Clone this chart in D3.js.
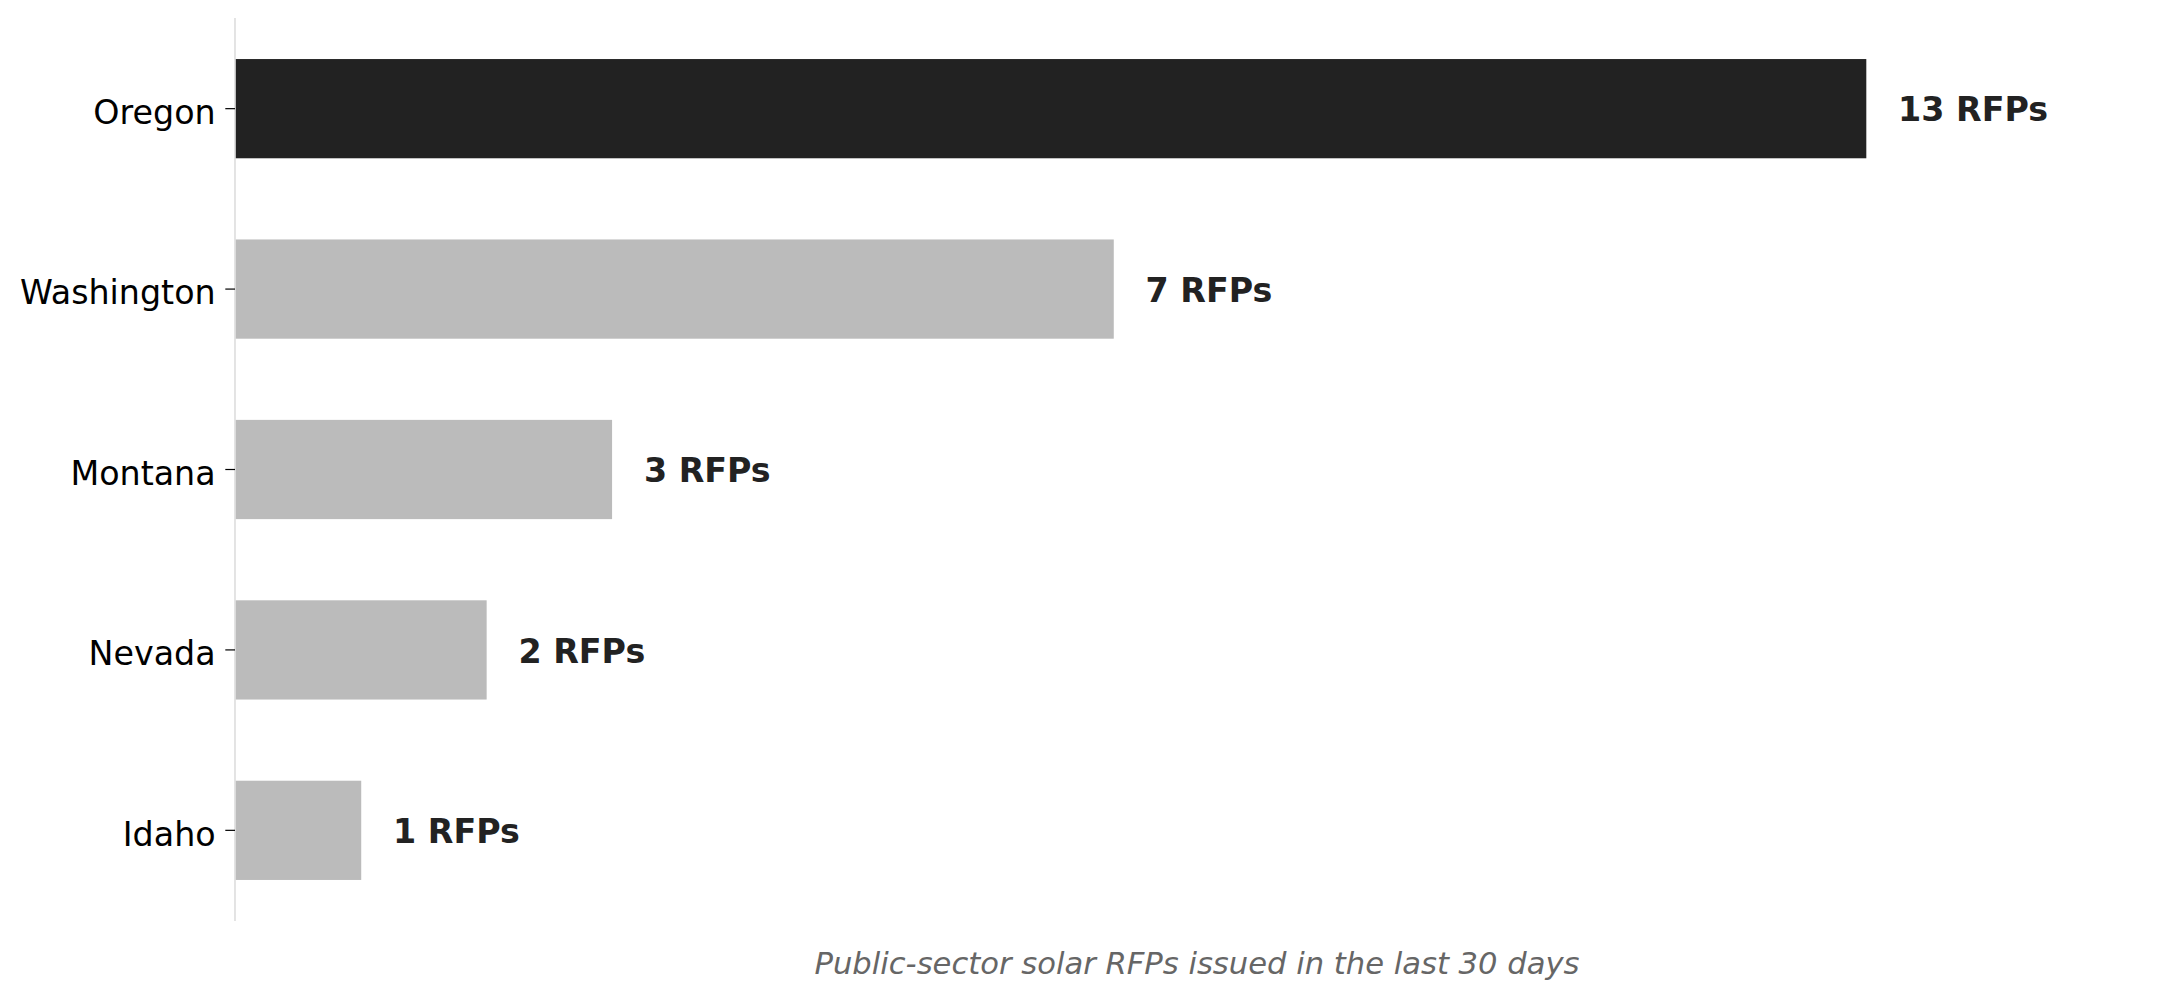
<!DOCTYPE html>
<html lang="en">
<head>
    <meta charset="UTF-8">
    <title>Public-sector solar RFPs</title>
    <script src="https://d3js.org/d3.v7.min.js"></script>
    <style>
        body { margin: 0; background: #fff; font-family: "DejaVu Sans", sans-serif; }
        text { font-family: "DejaVu Sans", sans-serif; }
        .tick-label { font-size: 33.3px; fill: #000; }
        .value-label { font-size: 33.3px; font-weight: bold; fill: #222; }
        .subtitle { font-size: 30.6px; font-style: italic; fill: #666; }
    </style>
</head>
<body>
<svg id="chart" width="2179" height="998"></svg>
<script>
    // Data
    const states = ["Oregon", "Washington", "Montana", "Nevada", "Idaho"];
    const rfpCounts = [13, 7, 3, 2, 1];
    const highlight = "Oregon";
    const subtitle = "Public-sector solar RFPs issued in the last 30 days";

    const width = 2179, height = 998;
    const margin = { top: 18, right: 20, bottom: 77, left: 235 };

    const svg = d3.select("#chart");

    const maxVal = d3.max(rfpCounts);

    // x runs a bit past the largest bar to leave room for labels
    const x = d3.scaleLinear()
        .domain([0, maxVal * 1.18])
        .range([margin.left, width - margin.right]);

    const y = d3.scaleBand()
        .domain(states)
        .range([margin.top, height - margin.bottom])
        .paddingInner(0.45)
        .paddingOuter(0.2275);

    const rows = states.map((s, i) => ({ state: s, value: rfpCounts[i] }));

    // Left spine
    svg.append("line")
        .attr("x1", margin.left).attr("x2", margin.left)
        .attr("y1", margin.top).attr("y2", height - margin.bottom)
        .attr("stroke", "#dddddd")
        .attr("stroke-width", 1.6);

    // Bars
    svg.selectAll(".bar")
        .data(rows)
        .enter()
        .append("rect")
        .attr("class", "bar")
        .attr("x", x(0) + 0.8)
        .attr("y", d => y(d.state))
        .attr("width", d => x(d.value) - x(0))
        .attr("height", y.bandwidth())
        .attr("fill", d => d.state === highlight ? "#222222" : "#bbbbbb");

    // Value labels
    svg.selectAll(".value-label")
        .data(rows)
        .enter()
        .append("text")
        .attr("class", "value-label")
        .attr("x", d => x(d.value + maxVal * 0.02))
        .attr("y", d => y(d.state) + y.bandwidth() / 2)
        .attr("dy", "0.38em")
        .text(d => `${d.value} RFPs`);

    // Y axis: ticks and labels
    const yAxis = svg.append("g")
        .attr("transform", `translate(${margin.left},0)`)
        .call(d3.axisLeft(y).tickSize(9.7).tickPadding(9.7));
    yAxis.attr("font-family", null).attr("font-size", null);
    yAxis.select(".domain").remove();
    yAxis.selectAll(".tick line").attr("stroke", "#000").attr("stroke-width", 1.2);
    yAxis.selectAll(".tick text")
        .attr("class", "tick-label")
        .attr("fill", null)
        .attr("dy", "0.46em");

    // Subtitle under the axes
    svg.append("text")
        .attr("class", "subtitle")
        .attr("x", (x.range()[0] + x.range()[1]) / 2)
        .attr("y", 974)
        .attr("text-anchor", "middle")
        .text(subtitle);
</script>
</body>
</html>
